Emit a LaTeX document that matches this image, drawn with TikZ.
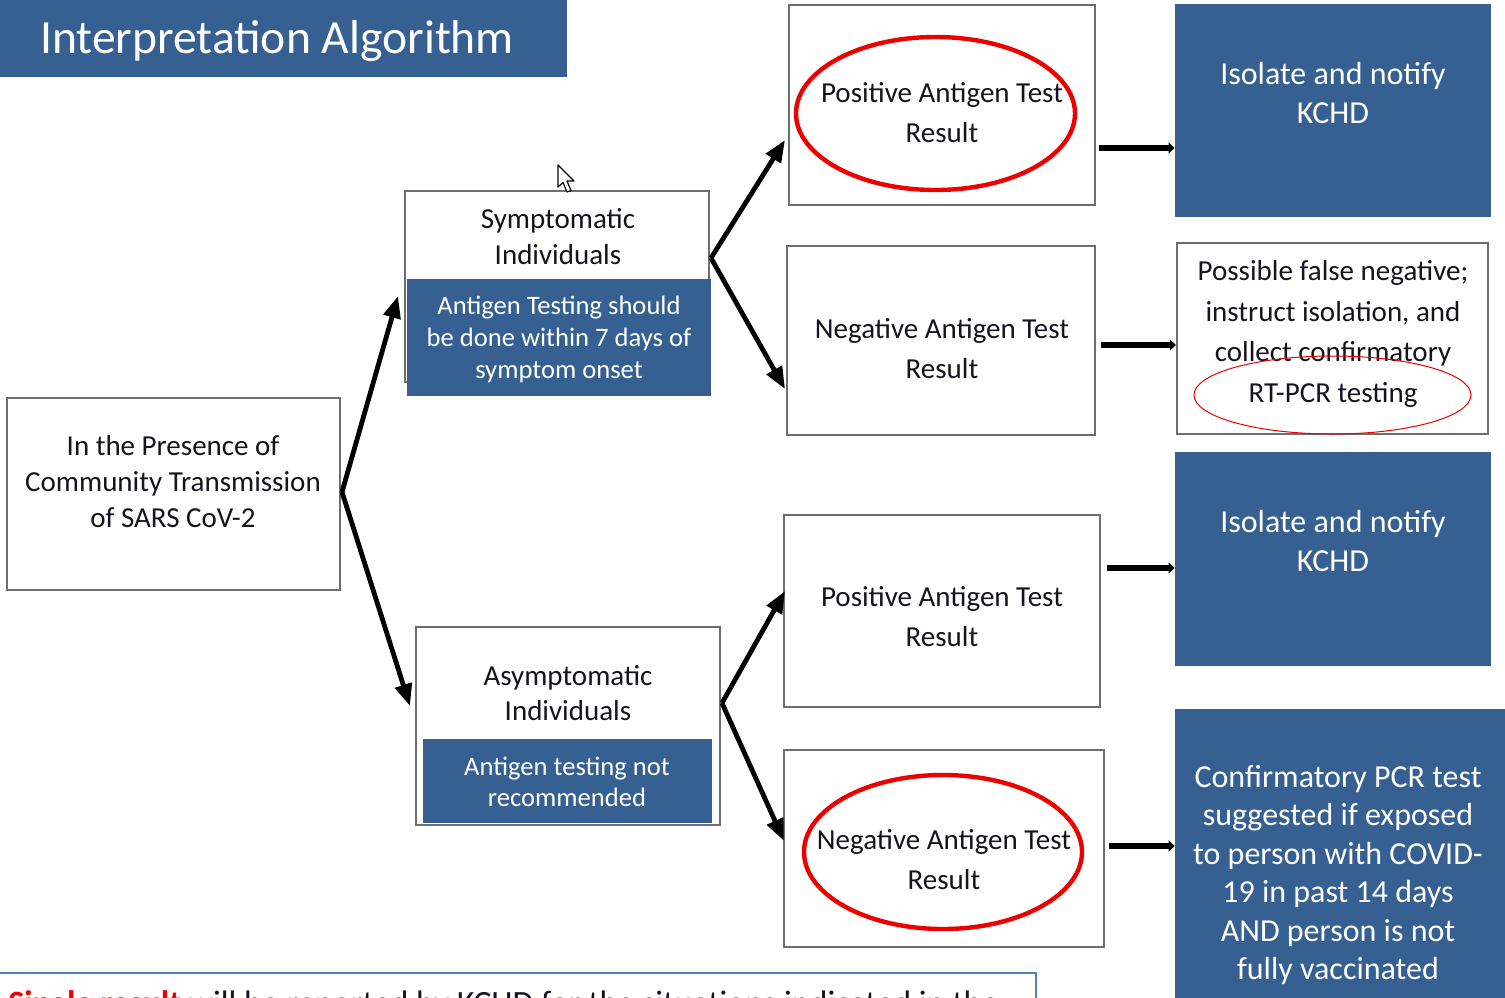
\documentclass[tikz,border=0pt]{standalone}
\usepackage{fontspec}
\setmainfont{Carlito}
\usetikzlibrary{arrows.meta,fit,calc}
\definecolor{kblue}{RGB}{54,96,146}
\definecolor{kgray}{RGB}{110,110,110}
\definecolor{kred}{RGB}{236,0,0}
\definecolor{kframe}{RGB}{79,129,189}
\definecolor{ktext}{RGB}{20,20,30}
\begin{document}
\begin{tikzpicture}[x=0.5pt,y=-0.5pt,
  box/.style={draw=kgray,line width=1.1pt,fill=white,inner sep=0pt},
  bluebox/.style={fill=kblue,inner sep=0pt},
  txt/.style={align=center,font=\fontsize{14.5}{20}\selectfont,text=ktext,inner sep=0pt},
  wtxt/.style={align=center,text=white,inner sep=0pt},
  bigw/.style={wtxt,font=\fontsize{16}{19.2}\selectfont},
  smallw/.style={wtxt,font=\fontsize{13.3}{16}\selectfont},
  diag/.style={line width=2.4pt,-{Triangle[length=11pt,width=8.5pt]}},
  harr/.style={line width=3.3pt,-{Triangle[length=3pt,width=5.5pt]}},
  redring/.style={draw=kred,line width=2.2pt},
  thinring/.style={draw=kred,line width=0.5pt},
]
\useasboundingbox (0,0) rectangle (1505,997);

% title
\node[bluebox,fit={(0,-5) (567,77)}] (title) {};
\node[wtxt,font=\fontsize{23.8}{28}\selectfont] (titletxt) at (277,41) {Interpretation Algorithm};

% bottom frame (cut off at the page edge, as in the reference)
\draw[kframe,line width=1pt] (0,973) -- (1036,973) -- (1036,1010);
\node[anchor=base west,inner sep=0pt,font=\fontsize{17}{20}\selectfont,text=ktext] (note) at (8,1014)
  {\textcolor{kred}{\textbf{Single result}} will be reported by KCHD for the situations indicated in the};

% left box
\node[box,fit={(7,398) (340,590)}] (L) {};
\node[txt,font=\fontsize{14.5}{18}\selectfont] (Ltxt) at (173,482) {In the Presence of\\Community Transmission\\of SARS CoV-2};

% symptomatic
\node[box,fit={(405,191) (709,382)}] (S) {};
\node[txt,font=\fontsize{14.5}{18}\selectfont] (Stxt) at (558,237) {Symptomatic\\Individuals};
\node[bluebox,fit={(407,279) (711,396)}] (So) {};
\node[smallw] (Sotxt) at (559,339) {Antigen Testing should\\be done within 7 days of\\symptom onset};

% asymptomatic
\node[box,fit={(416,627) (720,825)}] (A) {};
\node[txt,font=\fontsize{14.5}{17.5}\selectfont] (Atxt) at (568,693) {Asymptomatic\\Individuals};
\node[bluebox,fit={(423,739) (712,823)}] (Ao) {};
\node[smallw,font=\fontsize{13.3}{15.5}\selectfont] (Aotxt) at (567,782) {Antigen testing not\\recommended};

% result boxes
\node[box,fit={(789,5) (1095,205)}] (P1) {};
\node[txt] (P1txt) at (942,113) {Positive Antigen Test\\Result};
\node[box,fit={(787,246) (1095,435)}] (N1) {};
\node[txt] (N1txt) at (942,349) {Negative Antigen Test\\Result};
\node[box,fit={(784,515) (1100,707)}] (P2) {};
\node[txt] (P2txt) at (942,617) {Positive Antigen Test\\Result};
\node[box,fit={(784,750) (1104,947)}] (N2) {};
\node[txt] (N2txt) at (944,860) {Negative Antigen Test\\Result};

% outcome boxes
\node[bluebox,fit={(1175,4) (1491,217)}] (B1) {};
\node[bigw] (B1txt) at (1333,93) {Isolate and notify\\KCHD};
\node[bluebox,fit={(1175,452) (1491,666)}] (B2) {};
\node[bigw] (B2txt) at (1333,541) {Isolate and notify\\KCHD};
\node[box,fit={(1177,243) (1488,434)}] (FN) {};
\node[txt,font=\fontsize{14.5}{20.2}\selectfont] (FNtxt) at (1333,334) {Possible false negative;\\instruct isolation, and\\collect confirmatory\\RT-PCR testing};
\node[bluebox,fit={(1175,709) (1510,1005)}] (B3) {};
\node[bigw,font=\fontsize{16}{19.3}\selectfont] (B3txt) at (1338,875) {Confirmatory PCR test\\suggested if exposed\\to person with COVID-\\19 in past 14 days\\AND person is not\\fully vaccinated};

% red rings
\draw[redring] (935.5,113.5) ellipse [x radius=139.5,y radius=76.5];
\draw[redring] (943,852) ellipse [x radius=139,y radius=77];
\draw[thinring] (1332.5,395) ellipse [x radius=138.5,y radius=39];

% cursor
\draw[fill=white,line width=0.6pt,line join=round] (558,165) -- (558,187) -- (563,182.5) -- (567,192) -- (571,190.5) -- (567,181) -- (574,181) -- cycle;

% free arrow ends
\coordinate (sIn) at (398,296);
\coordinate (aIn) at (410,706);
\coordinate (p1In) at (785,140);
\coordinate (n1In) at (785,389);
\coordinate (p2In) at (785,591);
\coordinate (n2In) at (784,841);
\coordinate (Lout) at (342,492);
\coordinate (Sout) at (711,258);
\coordinate (Aout) at (722,703);

\draw[diag] (Lout) -- (sIn);
\draw[diag] (Lout) -- (aIn);
\draw[diag] (Sout) -- (p1In);
\draw[diag] (Sout) -- (n1In);
\draw[diag] (Aout) -- (p2In);
\draw[diag] (Aout) -- (n2In);

\draw[harr] (P1.east |- 0,148) ++(3,0) -- (B1.west |- 0,148);
\draw[harr] (N1.east |- 0,345) ++(5,0) -- (FN.west |- 0,345);
\draw[harr] (P2.east |- 0,568) ++(6,0) -- (B2.west |- 0,568);
\draw[harr] (N2.east |- 0,846) ++(4,0) -- (B3.west |- 0,846);
\end{tikzpicture}
\end{document}
